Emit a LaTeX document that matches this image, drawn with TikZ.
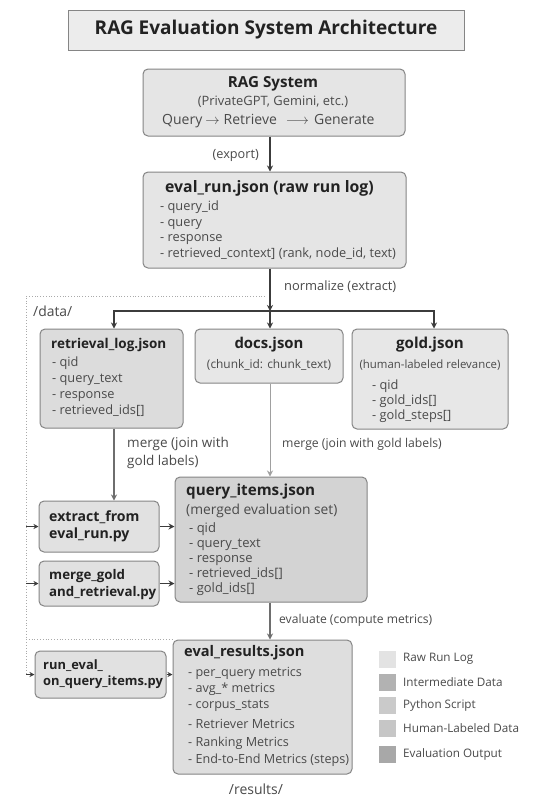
\documentclass[tikz,border=0pt]{standalone}
\usepackage{fontspec}
\setmainfont{Open Sans}
\usetikzlibrary{arrows.meta}

\definecolor{boxline}{HTML}{858585}
\definecolor{titlefill}{HTML}{ECECEC}
\definecolor{rawfill}{HTML}{E5E5E5}
\definecolor{logfill}{HTML}{DCDCDC}
\definecolor{lightfill}{HTML}{E7E7E7}
\definecolor{scriptfill}{HTML}{E1E1E1}
\definecolor{mergedfill}{HTML}{D3D3D3}
\definecolor{resultfill}{HTML}{DEDEDE}
\definecolor{inkdark}{HTML}{222222}
\definecolor{inkmid}{HTML}{4A4A4A}
\definecolor{arrowdark}{HTML}{3C3C3C}
\definecolor{arrowmid}{HTML}{6E6E6E}
\definecolor{arrowlight}{HTML}{A0A0A0}
\definecolor{legA}{HTML}{E3E3E3}
\definecolor{legB}{HTML}{B2B2B2}
\definecolor{legC}{HTML}{CACACA}
\definecolor{legD}{HTML}{C6C6C6}
\definecolor{legE}{HTML}{A8A8A8}

\newcommand{\fs}[1]{\fontsize{#1}{#1}\selectfont}

\tikzset{
  box/.style={draw=boxline, line width=1pt, rounded corners=5pt, inner sep=0pt},
  headtext/.style={text=inkdark, inner sep=0pt, font=\bfseries\fs{15}},
  scripttext/.style={text=inkdark, inner sep=0pt, anchor=west, text height=1.5ex, text depth=.35ex},
  itemtext/.style={text=inkmid, inner sep=0pt, anchor=west, text height=1.4ex, text depth=.3ex, font=\fs{12.8}},
  subtext/.style={text=inkmid, inner sep=0pt},
  edgetext/.style={text=inkmid, inner sep=0pt},
  arr/.style={draw=arrowdark, line width=1.4pt, -{Stealth[length=6pt,width=6pt]}},
  arrmid/.style={draw=arrowmid, line width=1.2pt, -{Stealth[length=6pt,width=6pt]}},
  arrlight/.style={draw=arrowlight, line width=1pt, -{Stealth[length=6pt,width=6pt]}},
  arrsmall/.style={draw=arrowdark, line width=0.8pt, -{Stealth[length=5pt,width=5pt]}},
  frame/.style={draw=boxline!70, line width=0.8pt, dotted},
  legsq/.style={minimum size=17pt, inner sep=0pt},
  legtext/.style={text=inkmid, inner sep=0pt, anchor=west, font=\fs{11.7}},
}

% a column of list lines: name prefix, x, first y, step, entries
\newcommand{\linelist}[5]{%
  \foreach \entry [count=\k] in {#5} {
    \node[itemtext] (#1\k) at (#2, {#3+(\k-1)*#4}) {\entry};
  }%
}

\begin{document}
\begin{tikzpicture}[x=1pt, y=-1pt]
\fill[white] (0,0) rectangle (541,801);
\useasboundingbox (0,0) rectangle (541,801);

% vertical guide lines for the connectors
\coordinate (spine) at (270,0);
\coordinate (lspine) at (114,0);
\coordinate (rspine) at (434,0);

% title
\node[draw=boxline, line width=1pt, fill=titlefill, minimum width=396pt, minimum height=40pt,
      text=inkdark, font=\bfseries\fs{19}] (title) at (266,30)
      {RAG Evaluation System Architecture};

% RAG system
\node[box, fill=rawfill, minimum width=262pt, minimum height=67pt] (rag) at (274,102.5) {};
\node[headtext, font=\bfseries\fs{15.2}] (ragT) at (273,83.5) {RAG System};
\node[subtext, font=\fs{12.9}] (ragS) at (273,102) {(PrivateGPT, Gemini, etc.)};
\node[edgetext, anchor=west, font=\fs{14}] (ragF) at (162,121)
      {Query\hspace{3pt}$\rightarrow$\hspace{4pt}Retrieve\hspace{9pt}$\longrightarrow$\hspace{5pt}Generate};

% raw run log
\node[box, fill=rawfill, minimum width=263pt, minimum height=96pt] (run) at (274.5,220) {};
\node[headtext, anchor=west, font=\bfseries\fs{15.8}] (runT) at (165,188) {eval\_run.json (raw run log)};
\linelist{runL}{160}{208}{15.4}{- query\_id, - query, - response, {- retrieved\_context] (rank, node\_id, text)}}

% normalized data files
\node[box, fill=logfill, minimum width=143pt, minimum height=99pt] (rl) at (111.5,378.5) {};
\node[headtext, anchor=west, font=\bfseries\fs{13.5}] (rlT) at (51,345) {retrieval\_log.json};
\linelist{rlL}{52}{364}{16}{- qid, - query\_text, - response, - retrieved\_ids[]}

\node[box, fill=lightfill, minimum width=148pt, minimum height=54pt] (docs) at (269,356) {};
\node[headtext, font=\bfseries\fs{14.9}] (docsT) at (269,344.5) {docs.json};
\node[subtext, font=\fs{11.9}] (docsS) at (269,365) {(chunk\_id: chunk\_text)};

\node[box, fill=lightfill, minimum width=156pt, minimum height=100pt] (gold) at (430,379) {};
\node[headtext, font=\bfseries\fs{15.1}] (goldT) at (430,344.5) {gold.json};
\node[subtext, font=\fs{11.4}] (goldS) at (430,365) {(human-labeled relevance)};
\linelist{goldL}{372}{387}{15}{- qid, - gold\_ids[], - gold\_steps[]}

% scripts
\node[box, fill=scriptfill, minimum width=120pt, minimum height=51pt] (ex) at (99,526.5) {};
\node[scripttext, font=\bfseries\fs{14.1}] (exA) at (49,518.5) {extract\_from};
\node[scripttext, font=\bfseries\fs{14.1}] (exB) at (49,535.5) {eval\_run.py};

\node[box, fill=scriptfill, minimum width=120pt, minimum height=45pt] (mg) at (99,583.5) {};
\node[scripttext, font=\bfseries\fs{13.3}] (mgA) at (49,576) {merge\_gold};
\node[scripttext, font=\bfseries\fs{13.3}] (mgB) at (49,593) {and\_retrieval.py};

\node[box, fill=scriptfill, minimum width=131pt, minimum height=47pt] (re) at (100.5,674.5) {};
\node[scripttext, font=\bfseries\fs{12.9}] (reA) at (43,666) {run\_eval\_};
\node[scripttext, font=\bfseries\fs{12.9}] (reB) at (43,682) {on\_query\_items.py};

% merged evaluation set
\node[box, fill=mergedfill, minimum width=192pt, minimum height=125pt] (qi) at (271,539.5) {};
\node[headtext, anchor=west, font=\bfseries\fs{15.2}] (qiT) at (186,491.5) {query\_items.json};
\node[subtext, anchor=west, font=\fs{13.8}] (qiS) at (186,511) {(merged evaluation set)};
\tikzset{itemtext/.append style={font=\fs{13}}}
\linelist{qiL}{189}{530}{15}{- qid, - query\_text, - response, - retrieved\_ids[], - gold\_ids[]}
\tikzset{itemtext/.append style={font=\fs{12.6}}}

% results
\node[box, fill=resultfill, minimum width=179pt, minimum height=134pt] (res) at (262.5,707) {};
\node[headtext, anchor=west, font=\bfseries\fs{14.6}] (resT) at (184,652.5) {eval\_results.json};
\linelist{resA}{188}{674}{16}{- per\_query metrics, - avg\_* metrics, - corpus\_stats}
\linelist{resB}{188}{726}{17.5}{- Retriever Metrics, - Ranking Metrics, - End-to-End Metrics (steps)}

% folder frame
\coordinate (fTR) at (265,296);
\coordinate (fTL) at (26,296);
\coordinate (fBL) at (26,675);
\coordinate (fMid) at (26,639);
\coordinate (fMidR) at (172,639);
\draw[frame] (fTR) -- (fTL) -- (fBL);
\draw[frame] (fMid) -- (fMidR);
\node[edgetext, anchor=west, font=\fs{13.9}] (dataLbl) at (33,311) {/data/};
\node[edgetext, font=\fs{14}] (resLbl) at (256,789) {/results/};

% connectors
\coordinate (j) at (270,311);
\draw[arr] (rag.south -| spine) -- (run.north -| spine);
\node[edgetext, anchor=east, font=\fs{12.7}] (exportLbl) at (259,155) {(export)};

\draw[arr] (run.south -| spine) -- (j);
\node[edgetext, anchor=west, font=\fs{12.9}] (normLbl) at (284,287) {normalize (extract)};
\draw[arr] (j) -| (rl.north -| lspine);
\draw[arr] (j) -| (gold.north -| rspine);
\draw[arr] (j) -- (docs.north -| spine);

\draw[arrmid] (rl.south -| lspine) -- (ex.north -| lspine);
\node[edgetext, anchor=west, font=\fs{13.5}] (mergeA) at (127,444) {merge (join with};
\node[edgetext, anchor=west, font=\fs{13.5}] (mergeB) at (127,462) {gold labels)};

\draw[arrlight] (docs.south -| spine) -- (qi.north -| spine);
\node[edgetext, anchor=west, font=\fs{12.2}] (mergeC) at (282,444) {merge (join with gold labels)};

\draw[arr] (ex.east) -- (ex.east -| qi.west);
\draw[arr] (mg.east) -- (mg.east -| qi.west);

\draw[arrmid] (qi.south -| spine) -- (res.north -| spine);
\node[edgetext, anchor=west, font=\fs{12.1}] (evalLbl) at (279,620) {evaluate (compute metrics)};

\draw[arrsmall] (re.east) -- (re.east -| res.west);

\coordinate (inEx) at (26,526.5);
\coordinate (inMg) at (26,583.5);
\coordinate (inRe) at (26,674.5);
\draw[arrsmall] (inEx) -- (ex.west);
\draw[arrsmall] (inMg) -- (mg.west);
\draw[arrsmall] (inRe) -- (re.west);

% legend
\node[legsq, fill=legA] (lgA) at (387.5,659) {};
\node[legsq, fill=legB] (lgB) at (387.5,682) {};
\node[legsq, fill=legC] (lgC) at (387.5,705) {};
\node[legsq, fill=legD] (lgD) at (387.5,728) {};
\node[legsq, fill=legE] (lgE) at (387.5,754) {};
\node[legtext] (lgAt) at (403,659) {Raw Run Log};
\node[legtext] (lgBt) at (403,682) {Intermediate Data};
\node[legtext] (lgCt) at (403,705) {Python Script};
\node[legtext] (lgDt) at (403,728) {Human-Labeled Data};
\node[legtext] (lgEt) at (403,754) {Evaluation Output};
\end{tikzpicture}
\end{document}
